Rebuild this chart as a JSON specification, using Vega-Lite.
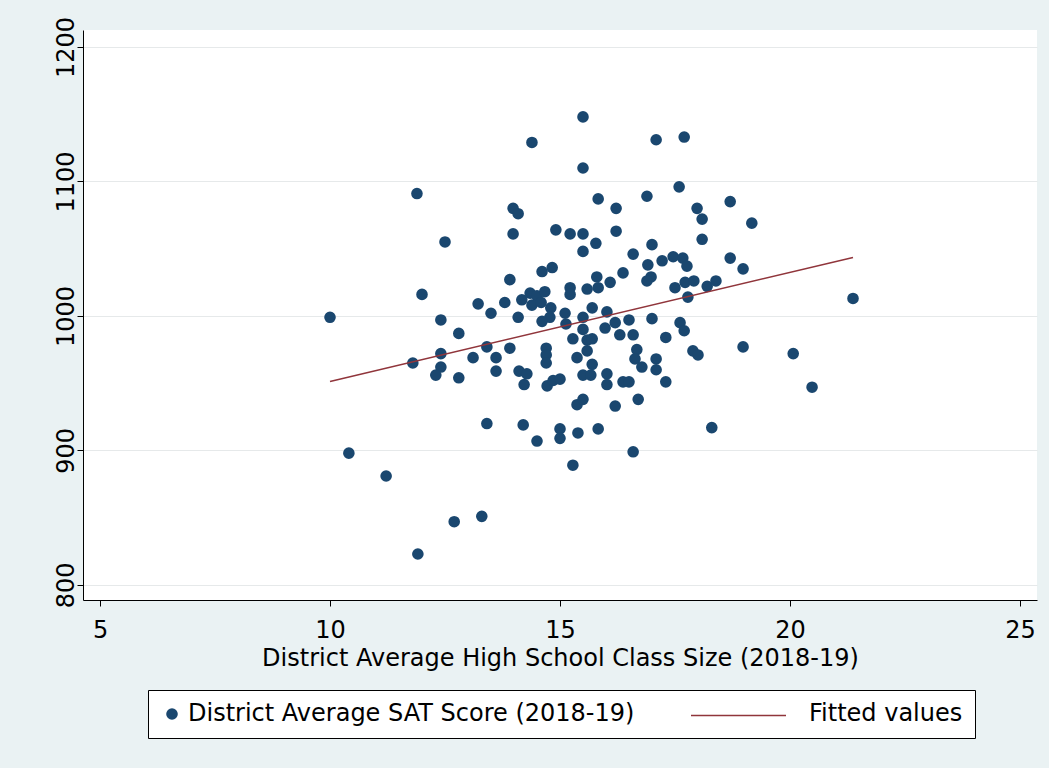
{
  "$schema": "https://vega.github.io/schema/vega-lite/v6.json",
  "width": 954,
  "height": 570,
  "autosize": "none",
  "padding": {"left": 83, "top": 30, "right": 12, "bottom": 168},
  "background": "#eaf2f3",
  "config": {
    "view": {"fill": "white", "stroke": null},
    "font": "DejaVu Sans"
  },
  "datasets": {
    "pts": [
      {"size": 10.00, "score": 999}, {"size": 10.41, "score": 898}, {"size": 11.22, "score": 881}, {"size": 11.91, "score": 823},
      {"size": 11.89, "score": 1091}, {"size": 12.00, "score": 1016}, {"size": 12.50, "score": 1055}, {"size": 12.70, "score": 847},
      {"size": 13.30, "score": 851}, {"size": 13.41, "score": 920}, {"size": 11.80, "score": 965}, {"size": 12.41, "score": 997},
      {"size": 12.41, "score": 972}, {"size": 12.41, "score": 962}, {"size": 12.30, "score": 956}, {"size": 12.80, "score": 987},
      {"size": 12.80, "score": 954}, {"size": 13.11, "score": 969}, {"size": 13.22, "score": 1009}, {"size": 13.50, "score": 1002},
      {"size": 13.80, "score": 1010}, {"size": 13.41, "score": 977}, {"size": 13.61, "score": 969}, {"size": 13.61, "score": 959},
      {"size": 13.91, "score": 1027}, {"size": 13.91, "score": 976}, {"size": 14.09, "score": 999}, {"size": 14.11, "score": 959},
      {"size": 14.28, "score": 957}, {"size": 14.22, "score": 949}, {"size": 13.98, "score": 1080}, {"size": 14.09, "score": 1076},
      {"size": 13.98, "score": 1061}, {"size": 14.39, "score": 1129}, {"size": 14.20, "score": 919}, {"size": 14.50, "score": 907},
      {"size": 14.17, "score": 1012}, {"size": 14.35, "score": 1017}, {"size": 14.50, "score": 1015}, {"size": 14.39, "score": 1008},
      {"size": 14.67, "score": 1018}, {"size": 14.59, "score": 1010}, {"size": 14.80, "score": 1006}, {"size": 14.78, "score": 999},
      {"size": 14.61, "score": 996}, {"size": 14.61, "score": 1033}, {"size": 14.83, "score": 1036}, {"size": 14.91, "score": 1064},
      {"size": 14.70, "score": 976}, {"size": 14.70, "score": 971}, {"size": 14.70, "score": 965}, {"size": 14.72, "score": 948},
      {"size": 14.85, "score": 952}, {"size": 15.00, "score": 953}, {"size": 15.00, "score": 916}, {"size": 15.00, "score": 909},
      {"size": 15.11, "score": 1002}, {"size": 15.13, "score": 994}, {"size": 15.22, "score": 1061}, {"size": 15.22, "score": 1021},
      {"size": 15.22, "score": 1016}, {"size": 15.28, "score": 983}, {"size": 15.37, "score": 969}, {"size": 15.39, "score": 913},
      {"size": 15.28, "score": 889}, {"size": 15.37, "score": 934}, {"size": 15.50, "score": 938}, {"size": 15.50, "score": 1148},
      {"size": 15.50, "score": 1110}, {"size": 15.50, "score": 1061}, {"size": 15.50, "score": 1048}, {"size": 15.50, "score": 999},
      {"size": 15.50, "score": 990}, {"size": 15.59, "score": 982}, {"size": 15.59, "score": 1020}, {"size": 15.59, "score": 974},
      {"size": 15.50, "score": 956}, {"size": 15.67, "score": 956}, {"size": 15.70, "score": 964}, {"size": 15.70, "score": 1006},
      {"size": 15.70, "score": 983}, {"size": 15.78, "score": 1054}, {"size": 15.80, "score": 1029}, {"size": 15.83, "score": 1021},
      {"size": 15.83, "score": 1087}, {"size": 15.83, "score": 916}, {"size": 16.02, "score": 957}, {"size": 16.02, "score": 949},
      {"size": 16.20, "score": 933}, {"size": 16.09, "score": 1025}, {"size": 16.02, "score": 1003}, {"size": 15.98, "score": 991},
      {"size": 16.20, "score": 995}, {"size": 16.30, "score": 986}, {"size": 16.22, "score": 1080}, {"size": 16.22, "score": 1063},
      {"size": 16.37, "score": 1032}, {"size": 16.37, "score": 951}, {"size": 16.50, "score": 951}, {"size": 16.50, "score": 997},
      {"size": 16.59, "score": 1046}, {"size": 16.59, "score": 986}, {"size": 16.59, "score": 899}, {"size": 16.67, "score": 975},
      {"size": 16.63, "score": 968}, {"size": 16.70, "score": 938}, {"size": 16.78, "score": 962}, {"size": 16.89, "score": 1089},
      {"size": 16.91, "score": 1038}, {"size": 17.00, "score": 1053}, {"size": 16.98, "score": 1029}, {"size": 16.89, "score": 1026},
      {"size": 17.00, "score": 998}, {"size": 17.09, "score": 1131}, {"size": 17.09, "score": 968}, {"size": 17.09, "score": 960},
      {"size": 17.22, "score": 1041}, {"size": 17.30, "score": 984}, {"size": 17.30, "score": 951}, {"size": 17.46, "score": 1044},
      {"size": 17.67, "score": 1043}, {"size": 17.76, "score": 1037}, {"size": 17.50, "score": 1021}, {"size": 17.72, "score": 1025},
      {"size": 17.91, "score": 1026}, {"size": 17.78, "score": 1014}, {"size": 17.59, "score": 1096}, {"size": 17.70, "score": 1133},
      {"size": 17.61, "score": 995}, {"size": 17.70, "score": 989}, {"size": 17.89, "score": 974}, {"size": 18.00, "score": 971},
      {"size": 17.98, "score": 1080}, {"size": 18.09, "score": 1072}, {"size": 18.09, "score": 1057}, {"size": 18.20, "score": 1022},
      {"size": 18.39, "score": 1026}, {"size": 18.30, "score": 917}, {"size": 18.70, "score": 1085}, {"size": 18.70, "score": 1043},
      {"size": 18.98, "score": 1035}, {"size": 18.98, "score": 977}, {"size": 19.17, "score": 1069}, {"size": 20.07, "score": 972},
      {"size": 20.48, "score": 947}, {"size": 21.37, "score": 1013}
    ],
    "fit": [
      {"size": 10.00, "score": 951.3, "series": "Fitted values"},
      {"size": 21.37, "score": 1043.5, "series": "Fitted values"}
    ]
  },
  "resolve": {"scale": {"color": "independent"}, "legend": {"color": "independent"}},
  "layer": [
    {
      "data": {"name": "pts"},
      "transform": [{"calculate": "'District Average SAT Score (2018-19)'", "as": "series"}],
      "mark": {"type": "point", "filled": true, "opacity": 1, "size": 135},
      "encoding": {
        "x": {
          "field": "size", "type": "quantitative",
          "scale": {"domain": [4.63, 25.37], "nice": false, "zero": false},
          "axis": {
            "values": [5, 10, 15, 20, 25], "grid": false,
            "title": "District Average High School Class Size (2018-19)",
            "titleFontSize": 24, "titleFontWeight": "normal", "titleColor": "#000",
            "titleBaseline": "alphabetic", "titleY": 65,
            "labelFontSize": 24, "labelColor": "#000", "labelPadding": 12,
            "tickSize": 6, "tickColor": "#000", "domainColor": "#000", "labelFlush": false
          }
        },
        "y": {
          "field": "score", "type": "quantitative",
          "scale": {"domain": [788.8, 1212.6], "nice": false, "zero": false},
          "axis": {
            "values": [800, 900, 1000, 1100, 1200], "title": null, "format": "d",
            "grid": true, "gridColor": "#e6e9ea", "gridWidth": 1.2,
            "labelFontSize": 24, "labelColor": "#000", "labelAngle": 270,
            "labelAlign": "center", "labelBaseline": "alphabetic", "labelPadding": 4,
            "tickSize": 6, "tickColor": "#000", "domainColor": "#000", "labelFlush": false
          }
        },
        "color": {
          "field": "series", "type": "nominal",
          "scale": {"domain": ["District Average SAT Score (2018-19)", "Fitted values"], "range": ["#1a476f", "#ffffff"]},
          "legend": {
            "title": null, "orient": "none", "legendX": 65, "legendY": 660,
            "direction": "horizontal", "columns": 2, "columnPadding": 146,
            "fillColor": "white", "strokeColor": "#000", "padding": 12,
            "labelFontSize": 24, "labelColor": "#000", "labelLimit": 0,
            "symbolSize": 135, "symbolStrokeWidth": 0, "zindex": 0
          }
        }
      }
    },
    {
      "data": {"name": "fit"},
      "mark": {"type": "line", "strokeWidth": 1.5},
      "encoding": {
        "x": {"field": "size", "type": "quantitative"},
        "y": {"field": "score", "type": "quantitative"},
        "color": {
          "field": "series", "type": "nominal",
          "scale": {"domain": ["Fitted values"], "range": ["#90353b"]},
          "legend": {
            "title": null, "orient": "none", "legendX": 607, "legendY": 637,
            "padding": 0, "labelFontSize": 24, "labelOpacity": 0, "labelExpr": "''",
            "symbolType": "stroke", "symbolSize": 9025, "symbolStrokeWidth": 1.5,
            "zindex": 1
          }
        }
      }
    }
  ]
}
